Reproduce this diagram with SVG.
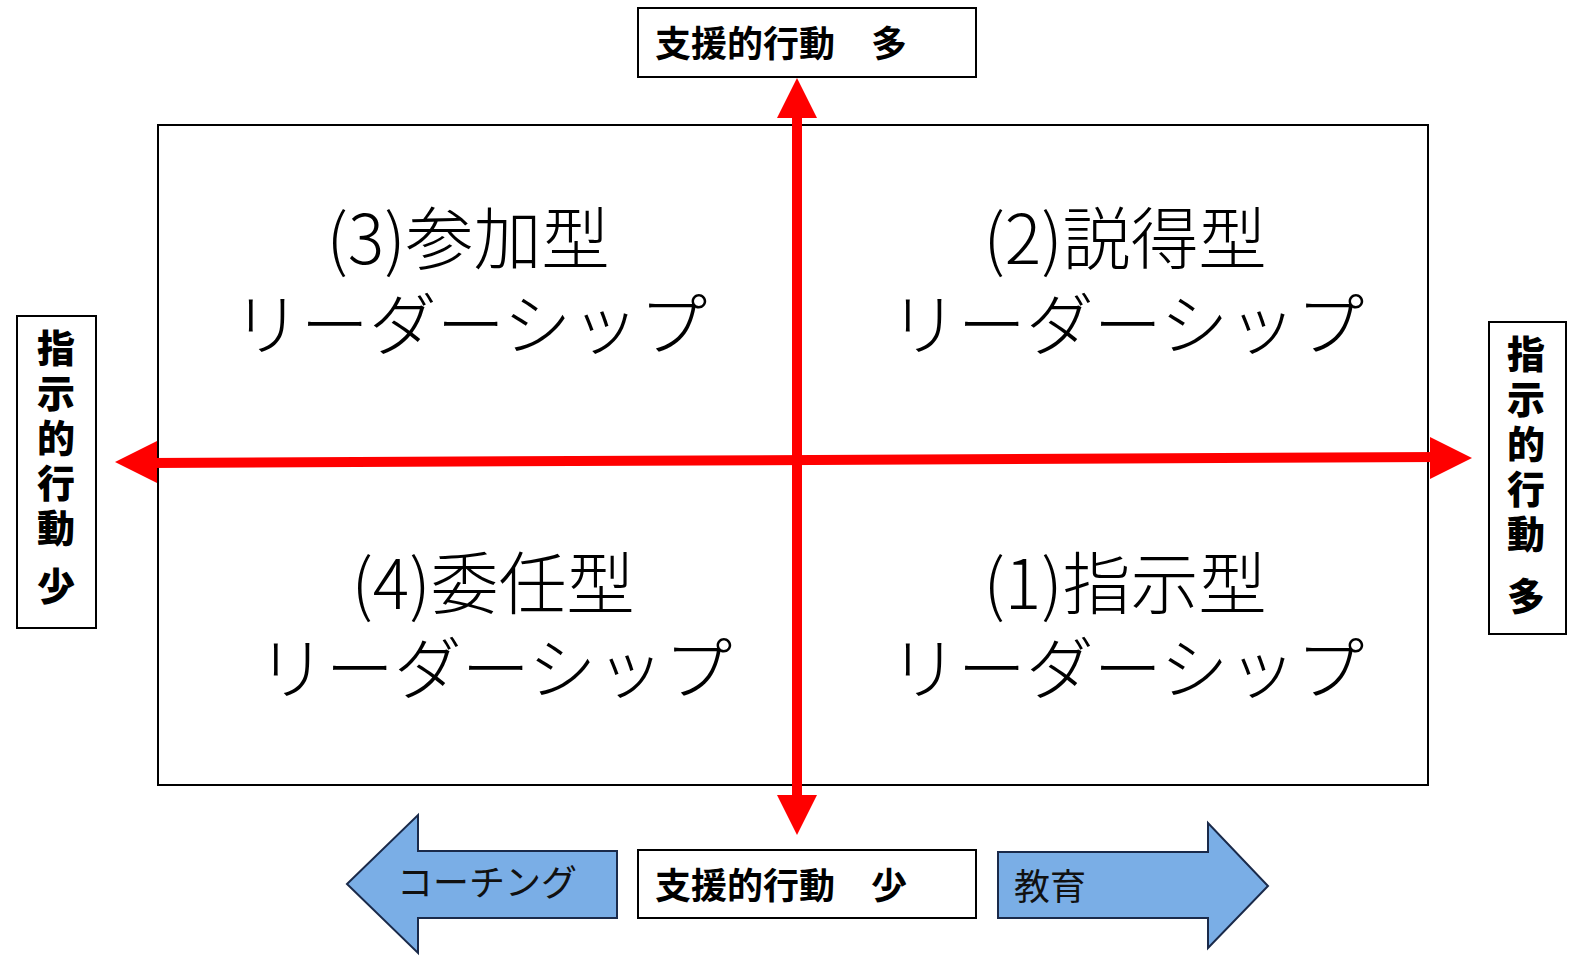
<svg xmlns="http://www.w3.org/2000/svg" width="1594" height="971" viewBox="0 0 1594 971">
<style>
.box{fill:#fff;stroke:#000;stroke-width:2}
.lbl{font-family:"Noto Sans CJK JP","Noto Sans CJK SC",sans-serif;font-weight:700;font-size:36px;fill:#000}
.vl{font-family:"Noto Sans CJK JP","Noto Sans CJK SC",sans-serif;font-weight:900;font-size:38px;fill:#000;text-anchor:middle}
.q{font-family:"Noto Sans CJK JP","Noto Sans CJK SC",sans-serif;font-weight:300;font-size:68px;fill:#000;text-anchor:middle}
.blue{fill:#7aaee6;stroke:#1a2a4a;stroke-width:2}
.b{font-family:"Noto Sans CJK JP",sans-serif;font-size:36px;fill:#111}
.red{stroke:#f00;stroke-width:10;fill:none}
.head{fill:#f00}
</style>
<rect width="1594" height="971" fill="#fff"/>
<g id="matrix"><rect x="158" y="125" width="1270" height="660" fill="none" stroke="#000" stroke-width="2"/></g>
<g id="connectors">
<line class="red" x1="797" y1="110" x2="797" y2="800"/>
<polygon class="head" points="797,78 777,118 817,118"/>
<polygon class="head" points="797,835 777,795 817,795"/>
<line class="red" x1="150" y1="463" x2="1440" y2="457"/>
<polygon class="head" points="115,462 157,441 157,483"/>
<polygon class="head" points="1472,458 1430,437 1430,479"/>
</g>
<g id="q3"><text class="q" x="468" y="264">(3)参加型</text><text class="q" x="470" y="350">リーダーシップ</text></g>
<g id="q2"><text class="q" x="1125" y="264">(2)説得型</text><text class="q" x="1127" y="350">リーダーシップ</text></g>
<g id="q4"><text class="q" x="493" y="609">(4)委任型</text><text class="q" x="495" y="694">リーダーシップ</text></g>
<g id="q1"><text class="q" x="1125" y="609">(1)指示型</text><text class="q" x="1127" y="694">リーダーシップ</text></g>
<g id="top"><rect class="box" x="638" y="8" width="338" height="69"/><text class="lbl" x="655" y="57">支援的行動　多</text></g>
<g id="bottom"><rect class="box" x="638" y="850" width="338" height="68"/><text class="lbl" x="655" y="899">支援的行動　少</text></g>
<g id="left"><rect class="box" x="17" y="316" width="79" height="312"/>
<text class="vl"><tspan x="56" y="362">指</tspan><tspan x="56" y="407">示</tspan><tspan x="56" y="452">的</tspan><tspan x="56" y="497">行</tspan><tspan x="56" y="542">動</tspan><tspan x="56" y="600">少</tspan></text></g>
<g id="right"><rect class="box" x="1489" y="322" width="77" height="312"/>
<text class="vl"><tspan x="1526" y="368">指</tspan><tspan x="1526" y="413">示</tspan><tspan x="1526" y="458">的</tspan><tspan x="1526" y="503">行</tspan><tspan x="1526" y="548">動</tspan><tspan x="1526" y="610">多</tspan></text></g>
<g id="coaching"><polygon class="blue" points="347,884 418,815 418,851 617,851 617,918 418,918 418,953"/><text class="b" x="397" y="896">コーチング</text></g>
<g id="education"><polygon class="blue" points="998,852 1208,852 1208,823 1268,886 1208,948 1208,918 998,918"/><text class="b" x="1014" y="900">教育</text></g>
</svg>
